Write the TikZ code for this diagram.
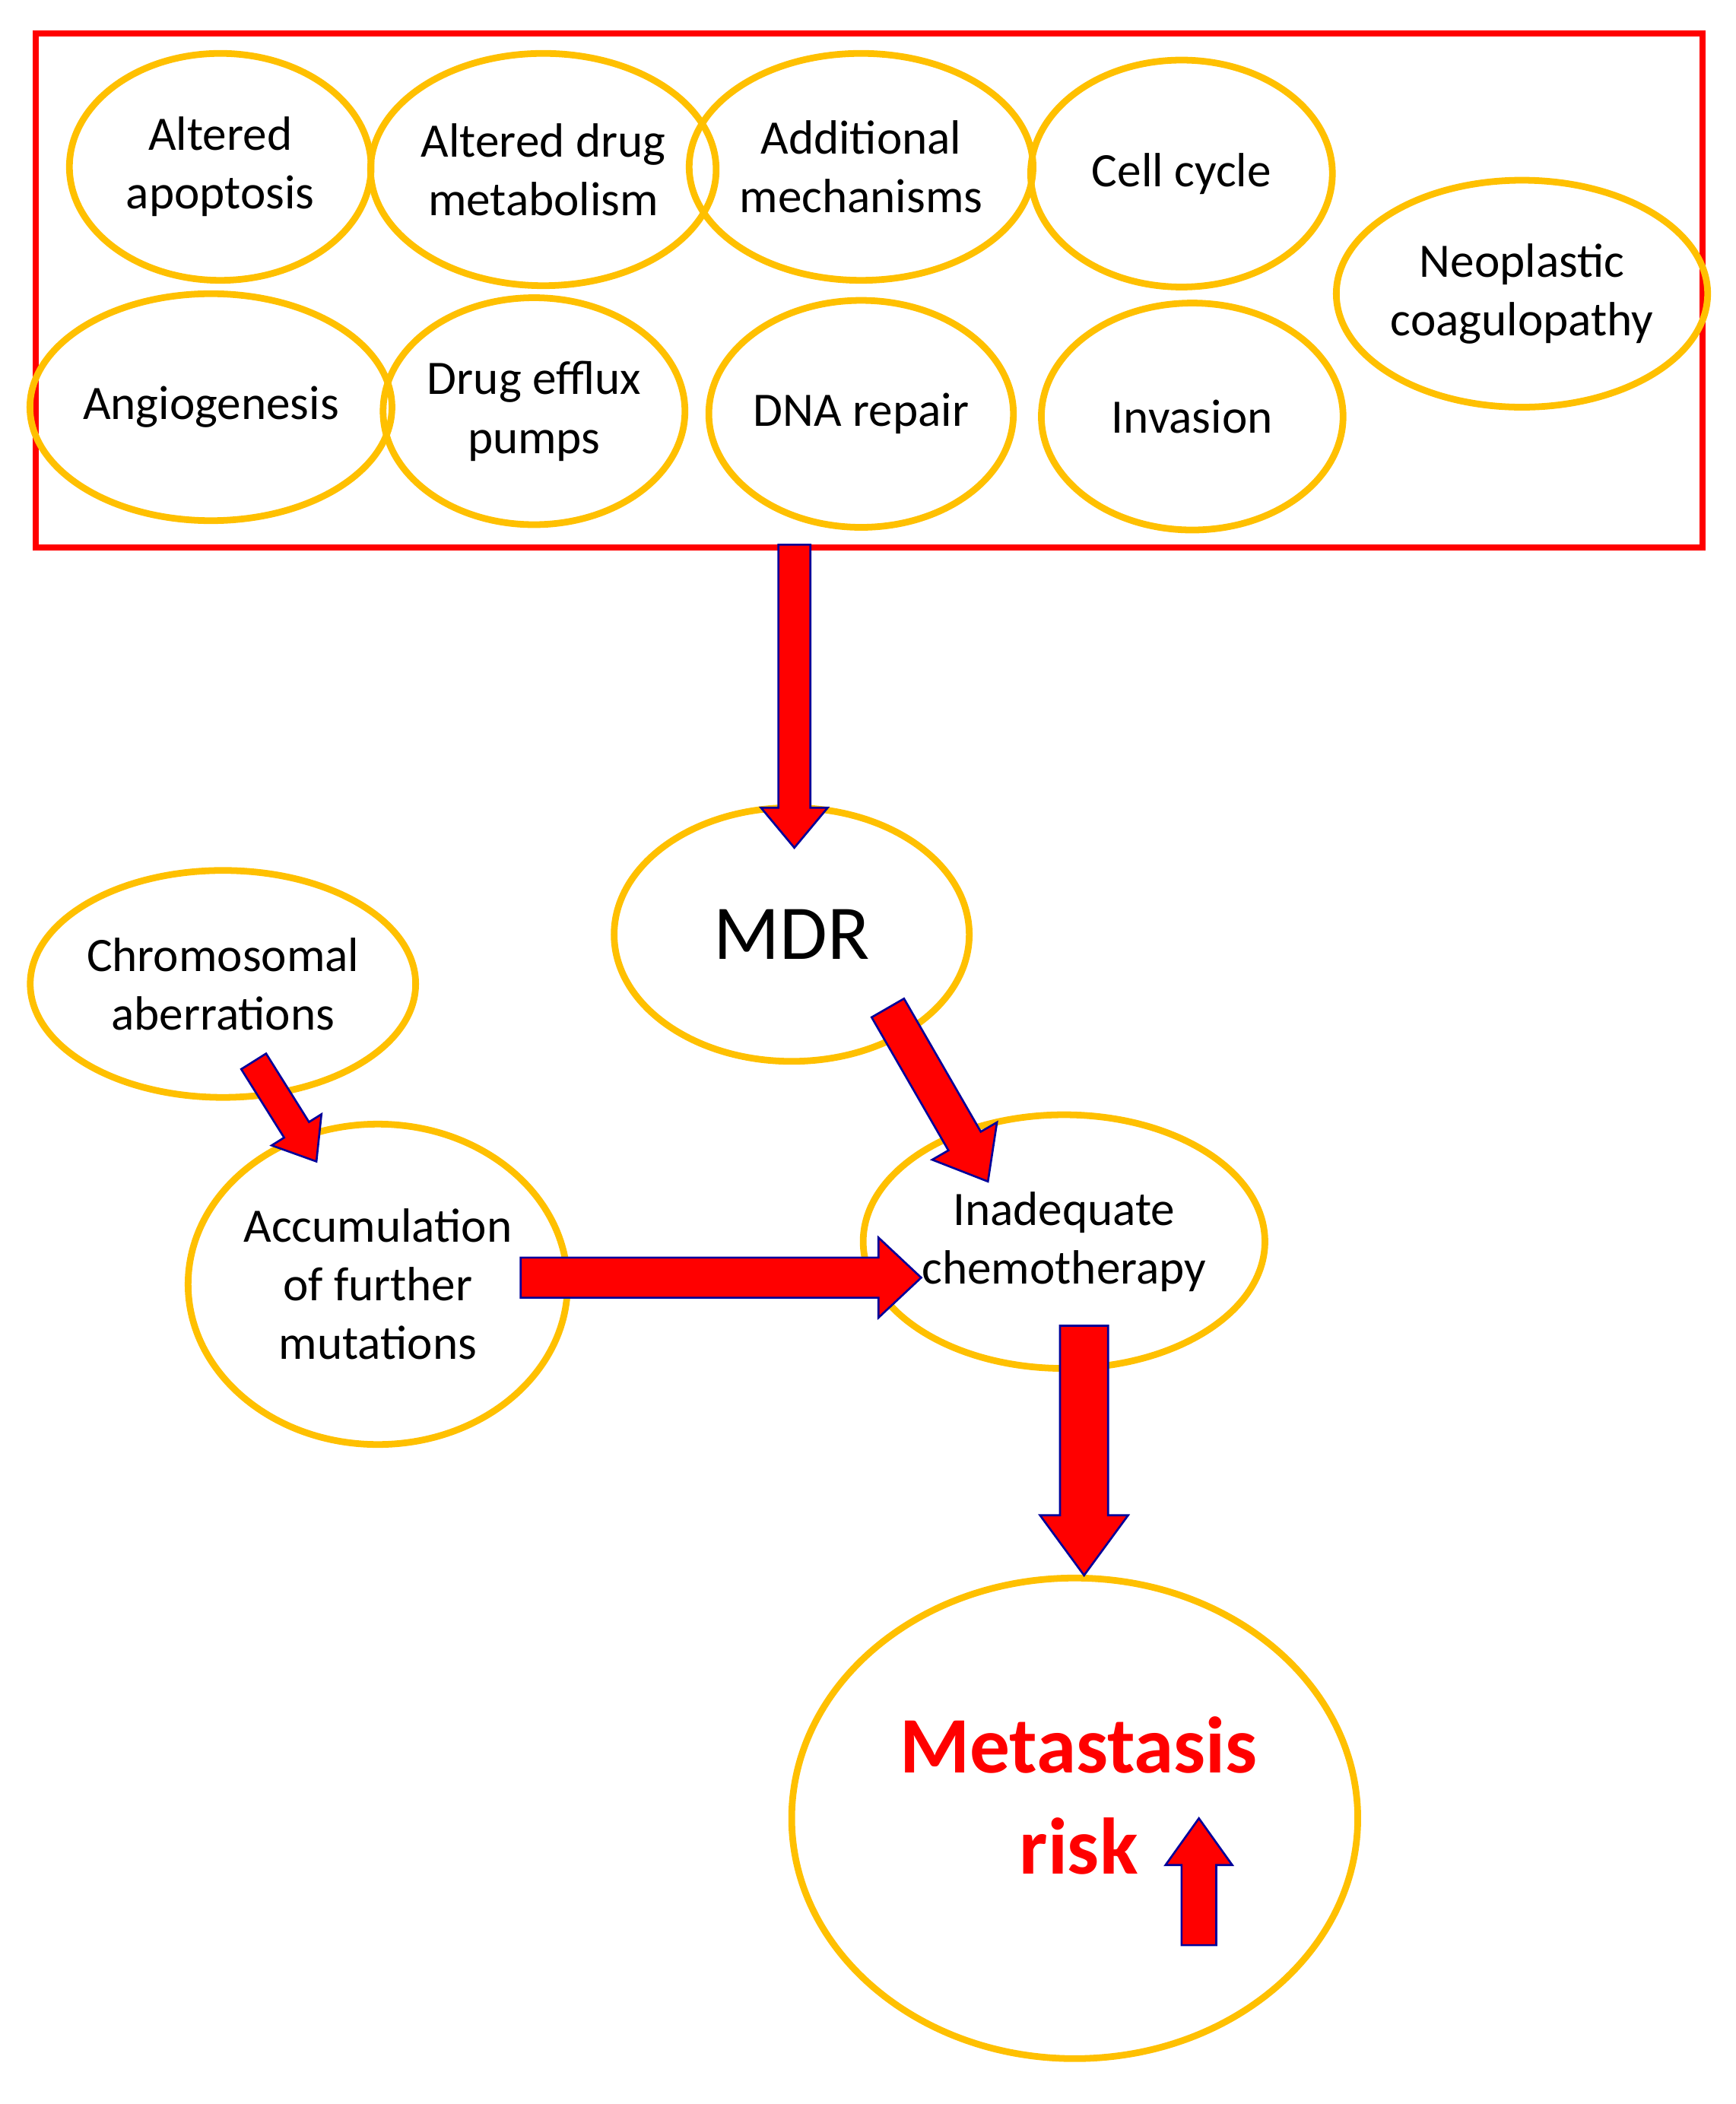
\documentclass[tikz,border=0pt]{standalone}
\usepackage{fontspec}
\setmainfont{Carlito}
\usetikzlibrary{calc,shapes.geometric}
\definecolor{gold}{RGB}{255,192,0}
\tikzset{
 el/.style={ellipse,draw=gold,line width=5pt,align=center,font=\fontsize{36}{44}\selectfont,inner sep=0pt},
 blk/.style={fill=red,draw=blue!60!black,line width=1.5pt}
}
\newcommand\blockarr[5]{%
 \coordinate (hb) at ($(#2)!#5!(#1)$);
 \draw[blk] ($(#1)!#3!90:(#2)$) -- ($(hb)!#3!90:(#2)$) -- ($(hb)!#4!90:(#2)$) -- (#2) -- ($(hb)!#4!-90:(#2)$) -- ($(hb)!#3!-90:(#2)$) -- ($(#1)!#3!-90:(#2)$) -- cycle;}
\newcommand\myell[5]{\node[el,minimum width=#3pt,minimum height=#4pt] (#1) at (#2) {#5};}
\begin{document}
\begin{tikzpicture}[x=1pt,y=-1pt]
\useasboundingbox (0,0) rectangle (1300,1576);
\draw[red,line width=4.5pt] (27,25) rectangle (1275,410);
\myell{a1}{165,125}{226}{170}{Altered\\apoptosis}
\myell{a2}{407,127}{226}{174}{Altered drug\\metabolism}
\myell{a3}{645,125}{226}{170}{Additional\\mechanisms}
\myell{a4}{885,130}{226}{170}{Cell cycle}
\myell{a5}{1140,220}{226}{170}{Neoplastic\\coagulopathy}
\myell{b1}{158,305}{226}{170}{Angiogenesis}
\myell{b2}{400,308}{226}{170}{Drug efflux\\pumps}
\myell{b3}{645,310}{226}{170}{DNA repair}
\myell{b4}{893,312}{226}{170}{Invasion}
\node[el,minimum width=266pt,minimum height=190pt,font=\fontsize{58}{66}\selectfont] (mdr) at (593,700) {MDR};
\myell{chr}{167,737}{250}{170}{Chromosomal\\aberrations}
\myell{acc}{283,962}{284}{240}{Accumulation\\of further\\mutations}
\myell{inad}{797,930}{250}{190}{Inadequate\\chemotherapy}
\node[el,minimum width=424pt,minimum height=360pt] (met) at (805,1362) {};
\node[text=red,font=\bfseries\fontsize{60}{76}\selectfont,align=center] (mt) at (808,1345) {Metastasis\\risk\hspace{70pt}};
\coordinate (s1) at (595,408); \coordinate (e1) at (595,635);
\blockarr{s1}{e1}{12pt}{25pt}{30pt}
\coordinate (s2) at (665,755); \coordinate (e2) at (740,885);
\blockarr{s2}{e2}{14pt}{28pt}{35pt}
\coordinate (s3) at (190,795); \coordinate (e3) at (237,870);
\blockarr{s3}{e3}{11pt}{22pt}{28pt}
\coordinate (s4) at (390,957); \coordinate (e4) at (690,957);
\blockarr{s4}{e4}{15pt}{30pt}{32pt}
\coordinate (s5) at (812,993); \coordinate (e5) at (812,1180);
\blockarr{s5}{e5}{18pt}{33pt}{45pt}
\coordinate (s6) at (898,1457); \coordinate (e6) at (898,1362);
\blockarr{s6}{e6}{13pt}{25pt}{35pt}
\end{tikzpicture}
\end{document}
